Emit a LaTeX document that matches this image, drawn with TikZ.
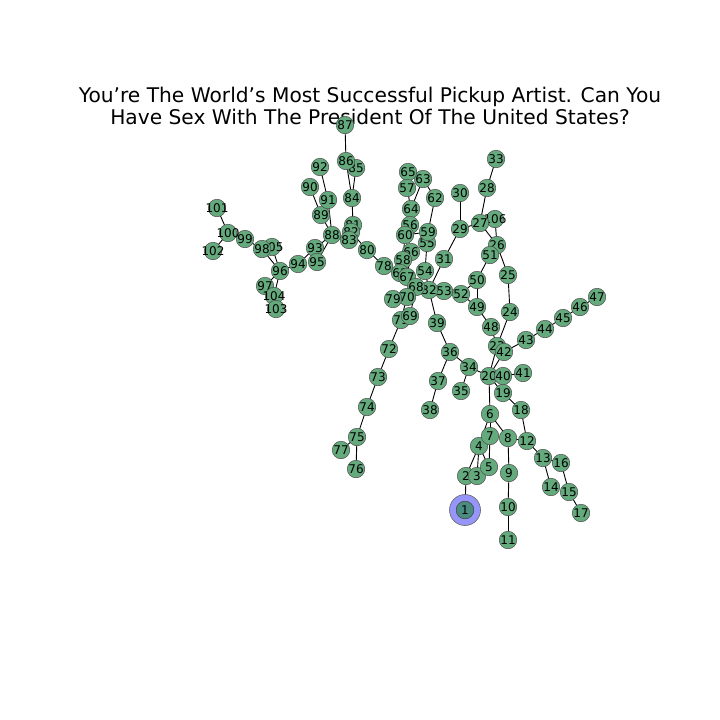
\documentclass[tikz,border=0pt]{standalone}
\usepackage{fontspec}
\setmainfont{DejaVu Sans}
\usetikzlibrary{backgrounds}
\definecolor{nodegreen}{RGB}{100,170,125}
\definecolor{rootblue}{RGB}{150,150,250}
\definecolor{rootteal}{RGB}{75,140,130}
\tikzset{
  vtx/.style={circle,draw=black!70,line width=0.5pt,fill=nodegreen,minimum size=17.5pt,inner sep=0pt,font=\fontsize{12}{12}\selectfont},
  edge/.style={draw=black,line width=0.9pt}
}
\begin{document}
\begin{tikzpicture}[x=1pt,y=-1pt]
\useasboundingbox (0,0) rectangle (720,720);
\node[align=center,font=\fontsize{20.2}{22.5}\selectfont] (title) at (370,106) {You’re The World’s Most Successful Pickup Artist. Can You\\Have Sex With The President Of The United States?};
\node[circle,draw=black!60,line width=0.6pt,fill=rootblue,minimum size=31pt,inner sep=0pt] (root) at (465,510) {};
\foreach \n/\x/\y in {
1/465/510, 2/466/476, 3/477/476, 4/479/446, 5/489/467, 6/490/414, 7/490/436, 8/508/438,
9/509/473, 10/508/507, 11/508/540, 12/527/441, 13/543/458, 14/551/487, 15/569/492, 16/561/463,
17/581/513, 18/521/410, 19/503/393, 20/489/376, 40/503/376, 41/523/373, 23/497/346, 42/504/352,
43/526/340, 44/545/329, 45/563/318, 46/580/307, 47/597/297, 24/510/312, 25/508/275, 26/497/245,
106/495/219, 27/480/223, 28/487/188, 33/496/159, 29/460/229, 30/460/193, 31/444/259, 51/490/255,
50/477/280, 49/477/307, 48/491/327, 52/461/294, 53/444/291, 32/429/290, 39/437/323, 36/450/352,
37/438/381, 38/430/410, 34/469/367, 35/461/391, 54/425/271, 55/427/243, 59/428/232, 62/435/198,
63/423/179, 65/408/172, 57/407/188, 64/411/209, 56/410/225, 60/405/235, 66/411/252, 58/403/260,
61/400/273, 67/407/277, 68/416/287, 70/407/297, 79/393/299, 71/401/320, 69/410/316, 72/389/349,
73/378/377, 74/367/407, 75/357/437, 76/356/469, 77/341/450, 78/384/266, 80/367/250, 81/353/225,
82/351/232, 83/349/240, 84/352/198, 85/356/168, 86/346/161, 87/345/125, 88/332/235, 89/321/215,
90/310/187, 91/328/200, 92/320/167, 93/315/248, 95/317/262, 94/298/264, 96/280/271, 105/272/247,
98/262/249, 99/245/239, 100/228/233, 101/217/208, 102/213/251, 97/265/286, 104/274/296, 103/276/309}
  {\node[vtx] (n\n) at (\x,\y) {\makebox[0pt]{\n}};}
\node[vtx,fill=rootteal] (r1) at (465,510) {1};
\begin{pgfonlayer}{background}
\foreach \a/\b in {
1/2, 2/4, 3/4, 4/5, 5/7, 4/6, 6/7, 6/8, 8/9, 9/10, 10/11, 8/12, 12/13, 13/14, 13/16, 16/15, 15/17,
12/18, 18/19, 19/20, 6/20, 20/40, 40/41, 20/34, 34/35, 34/36, 36/37, 37/38, 36/39, 39/32, 20/23,
20/42, 23/48, 23/24, 42/43, 43/44, 44/45, 45/46, 46/47, 24/25, 25/26, 26/27, 26/106, 27/28, 28/33,
27/29, 29/30, 29/31, 31/32, 26/51, 51/50, 50/49, 49/48, 50/52, 49/52, 52/53, 53/32, 32/54, 54/55,
55/59, 59/62, 62/63, 63/64, 64/57, 57/65, 64/56, 56/60, 60/59, 60/58, 58/66, 66/67, 58/61, 32/68,
68/67, 67/61, 61/78, 78/80, 80/82, 82/81, 81/84, 84/85, 84/86, 86/87, 82/83, 83/88, 88/89, 89/90,
88/91, 91/92, 88/93, 88/95, 93/94, 94/96, 96/98, 96/105, 98/99, 99/100, 100/101, 100/102, 96/97,
96/104, 104/103, 68/70, 70/79, 70/71, 68/69, 69/71, 71/72, 72/73, 73/74, 74/75, 75/76, 75/77}
  {\draw[edge] (n\a.center) -- (n\b.center);}
\end{pgfonlayer}
\end{tikzpicture}
\end{document}
